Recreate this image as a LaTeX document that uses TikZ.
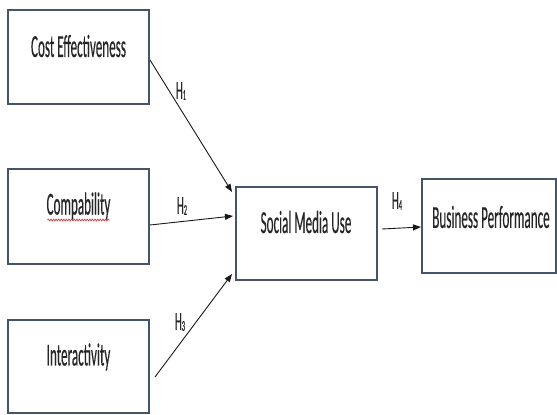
\documentclass[tikz,border=0pt]{standalone}
\usepackage{fontspec}
\setmainfont{Carlito}
\newfontfamily\sqfont{Carlito}[FakeBold=0.5]
\usetikzlibrary{arrows.meta,decorations.pathmorphing}
\definecolor{boxcol}{RGB}{68,84,106}
\definecolor{wavy}{RGB}{205,60,60}
\newcommand\sqtxt[1]{\scalebox{0.41}[1]{\sqfont\fontsize{32}{36}\selectfont #1}}
\newcommand\hlab[2]{\scalebox{0.42}[1]{\sqfont\fontsize{26}{28}\selectfont #1\raisebox{-1pt}{\fontsize{15}{15}\selectfont #2}}}
\begin{document}
\begin{tikzpicture}[x=1pt,y=-1pt,
  box/.style={draw=boxcol,line width=1.8pt,rectangle,inner sep=0pt,fill=white},
  txt/.style={inner sep=0pt,text=black!85},
  lab/.style={inner sep=0pt,text=black!85},
  conn/.style={black!90,line width=0.9pt,-{Triangle[length=8pt,width=6pt]}}]
\useasboundingbox (0,0) rectangle (557,415);
% boxes
\node[box,minimum width=141pt,minimum height=94pt] (cost) at (78.5,57) {};
\node[box,minimum width=141pt,minimum height=95pt] (comp) at (78.5,216.5) {};
\node[box,minimum width=141pt,minimum height=93pt] (inter) at (78.5,366.5) {};
\node[box,minimum width=141pt,minimum height=93pt] (smu) at (306.5,233.5) {};
\node[box,minimum width=134pt,minimum height=94pt] (bp) at (489,226) {};
% texts
\node[txt] (costt) at (78.5,46) {\sqtxt{Cost Effectiveness}};
\node[txt] (compt) at (78.5,206) {\sqtxt{Compability}};
\node[txt] (intert) at (78.5,357) {\sqtxt{Interactivity}};
\node[txt] (smut) at (306,222) {\sqtxt{Social Media Use}};
\node[txt] (bpt) at (491,217) {\sqtxt{Business Performance}};
\draw[wavy,line width=0.7pt,decorate,decoration={snake,amplitude=0.9pt,segment length=2.6pt}] ([xshift=-31pt,yshift=-14pt]compt.center) -- ([xshift=31pt,yshift=-14pt]compt.center);
% connector end points
\coordinate (s1) at (150,60);
\coordinate (e1) at (232,192);
\coordinate (s2) at (150,225);
\coordinate (e2) at (233,216);
\coordinate (s3) at (155,377);
\coordinate (e3) at (232,274);
\coordinate (s4) at (382,229);
\coordinate (e4) at (421,227);
\draw[conn] (s1) -- (e1);
\draw[conn] (s2) -- (e2);
\draw[conn] (s3) -- (e3);
\draw[conn] (s4) -- (e4);
% labels
\node[lab] (h1) at (181,91) {\hlab{H}{1}};
\node[lab] (h2) at (182,206) {\hlab{H}{2}};
\node[lab] (h3) at (180,322) {\hlab{H}{3}};
\node[lab] (h4) at (397,201) {\hlab{H}{4}};
\end{tikzpicture}
\end{document}
